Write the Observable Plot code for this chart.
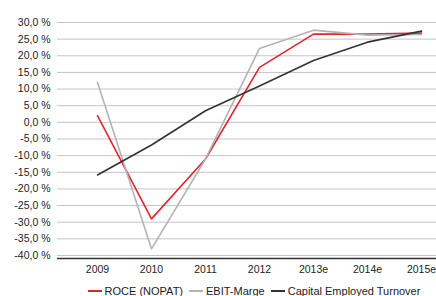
<!DOCTYPE html>
<html><head><meta charset="utf-8">
<script src="https://cdn.jsdelivr.net/npm/d3@7"></script>
<script src="https://cdn.jsdelivr.net/npm/@observablehq/plot@0.6"></script>
<style>
body{margin:0;background:#fff;font-family:"Liberation Sans",Arial,sans-serif;}
#legend{display:flex;justify-content:center;gap:6px;font-size:11px;color:#222;margin-top:7px;padding-left:72px;}
.item{display:flex;align-items:center;gap:3px;}
.sw{display:inline-block;width:14px;height:2px;}
</style></head>
<body><div id="chart"></div><div id="legend"></div>
<script>
const years = ["2009","2010","2011","2012","2013e","2014e","2015e"];
const roce = [2, -29, -11, 16.5, 26.5, 26.5, 26.8];
const ebit = [12, -38, -11, 22.2, 27.7, 26.2, 26.4];
const cet = [-15.8, -6.8, 3.5, 10.9, 18.6, 24.1, 27.4];
const seriesNames = ["ROCE (NOPAT)", "EBIT-Marge", "Capital Employed Turnover"];
const seriesColors = ["#e3242b", "#b4b4b4", "#333333"];
const yTicks = [30,25,20,15,10,5,0,-5,-10,-15,-20,-25,-30,-35,-40];

const seriesValues = [roce, ebit, cet];
const data = seriesNames.flatMap((s, i) => years.map((y, j) => ({series: s, year: y, value: seriesValues[i][j]})));
const fmt = d => d.toFixed(1).replace(".", ",") + " %";

const plot = Plot.plot({
  width: 436, height: 278,
  marginLeft: 57, marginRight: 0, marginTop: 22, marginBottom: 23,
  style: {fontFamily: '"Liberation Sans", Arial, sans-serif', fontSize: "10.5px", color: "#222"},
  x: {type: "point", domain: years, range: [97, 421], padding: 0, label: null},
  y: {domain: [-40, 30], label: null},
  color: {domain: seriesNames, range: seriesColors},
  marks: [
    Plot.ruleY(yTicks, {stroke: "#c4c4c4", strokeWidth: 1}),
    Plot.ruleY([-40], {stroke: "#333", strokeWidth: 1.5, dy: 3}),
    Plot.axisY(yTicks, {tickSize: 0, tickPadding: 7, tickFormat: fmt, label: null}),
    Plot.axisX({tickSize: 0, tickPadding: 10, label: null}),
    Plot.line(data, {x: "year", y: "value", z: "series", stroke: "series", strokeWidth: 1.6})
  ]
});
document.getElementById("chart").appendChild(plot);
const lg = document.getElementById("legend");
seriesNames.forEach((n, i) => {
  const it = document.createElement("span"); it.className = "item";
  const sw = document.createElement("span"); sw.className = "sw"; sw.style.background = seriesColors[i];
  it.appendChild(sw); it.appendChild(document.createTextNode(n)); lg.appendChild(it);
});
</script></body></html>
